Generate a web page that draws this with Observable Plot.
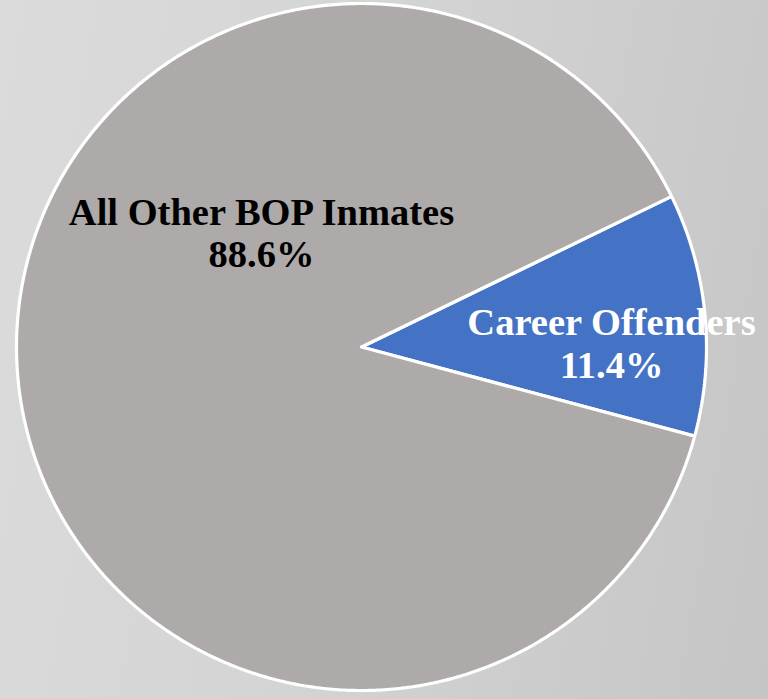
<!DOCTYPE html>
<html>
<head>
<meta charset="utf-8">
<script src="https://cdn.jsdelivr.net/npm/d3@7"></script>
<script src="https://cdn.jsdelivr.net/npm/@observablehq/plot@0.6"></script>
<style>
  html, body { margin: 0; padding: 0; }
  body {
    width: 768px; height: 699px; overflow: hidden;
    background: linear-gradient(100deg, #dbdbdb 0%, #d4d4d4 45%, #c5c5c5 100%);
  }
  #chart svg { display: block; background: transparent; }
</style>
</head>
<body>
<div id="chart"></div>
<script>
// ---- data ----
const categories = ["Career Offenders", "All Other BOP Inmates"];
const values = [11.4, 88.6];
const valueLabels = ["11.4%", "88.6%"];
const sliceColors = ["#4472c4", "#aeaaa9"];

// ---- geometry (unit circle, clockwise from 12 o'clock) ----
const W = 768, H = 699;
const cx = 361, cy = 346.5, R = 345, RY = 343.5;
const startDeg = 64.0;
const pie = d3.pie().sort(null)
  .startAngle(startDeg * Math.PI / 180)
  .endAngle(startDeg * Math.PI / 180 + 2 * Math.PI);
const arcs = pie(values);

const pts = [];
arcs.forEach((a, i) => {
  const cat = categories[i];
  const n = Math.max(4, Math.ceil((a.endAngle - a.startAngle) / (2 * Math.PI) * 720));
  pts.push({category: cat, x: 0, y: 0});
  for (let k = 0; k <= n; k++) {
    const t = a.startAngle + (a.endAngle - a.startAngle) * k / n;
    pts.push({category: cat, x: Math.sin(t), y: Math.cos(t) * RY / R});
  }
  pts.push({category: cat, x: 0, y: 0});
});

const labels = categories.map((c, i) => ({category: c, text: c + "\n" + valueLabels[i]}));

const chart = Plot.plot({
  width: W,
  height: H,
  margin: 0,
  style: {background: "transparent"},
  x: {domain: [-cx / R, (W - cx) / R], range: [0, W], axis: null},
  y: {domain: [-(H - cy) / R, cy / R], range: [H, 0], axis: null},
  color: {domain: categories, range: sliceColors},
  marks: [
    Plot.line(pts, {
      x: "x", y: "y", z: "category",
      fill: "category",
      stroke: "white", strokeWidth: 3.2, strokeLinejoin: "miter", curve: "linear"
    }),
    Plot.text(labels.filter(d => d.category === "All Other BOP Inmates"), {
      x: (261 - cx) / R, y: (cy - 232) / R,
      text: "text", fill: "black",
      fontFamily: "Liberation Serif", fontWeight: "bold", fontSize: 38.5,
      lineHeight: 1.1, textAnchor: "middle"
    }),
    Plot.text(labels.filter(d => d.category === "Career Offenders"), {
      x: (611 - cx) / R, y: (cy - 342) / R,
      text: "text", fill: "white",
      fontFamily: "Liberation Serif", fontWeight: "bold", fontSize: 38.5,
      lineHeight: 1.12, textAnchor: "middle"
    })
  ]
});
document.getElementById("chart").appendChild(chart);
</script>
</body>
</html>
